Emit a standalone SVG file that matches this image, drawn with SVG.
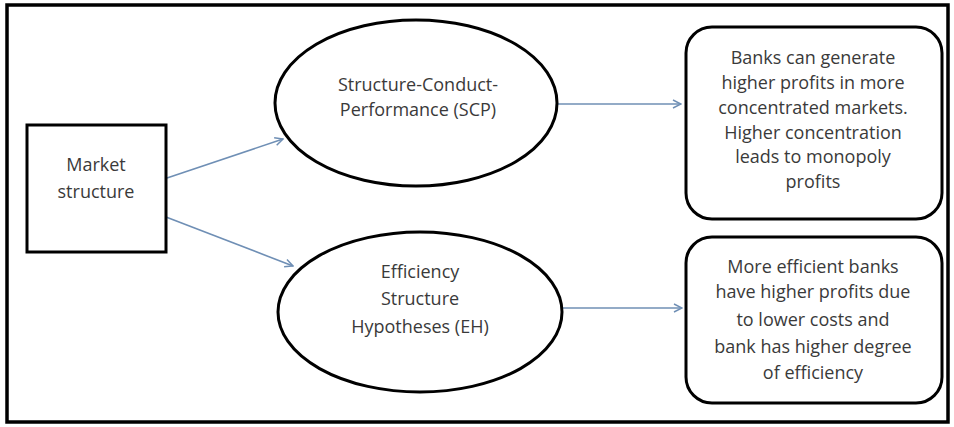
<svg xmlns="http://www.w3.org/2000/svg" width="954" height="427" viewBox="0 0 954 427">
<defs>
<style>
.frame{fill:none;stroke:#000;stroke-width:3.5}
.node{fill:#fff;stroke:#000;stroke-width:3}
.t{font-family:"Open Sans","Liberation Sans",sans-serif;font-size:18px;fill:#3a3a3a;text-anchor:middle}
.conn{fill:none;stroke:#6f8fb5;stroke-width:1.6}
</style>
<marker id="arr" viewBox="0 0 10 10" refX="9" refY="5" markerWidth="10" markerHeight="10" markerUnits="userSpaceOnUse" orient="auto">
<path d="M1,1 L9,5 L1,9" fill="none" stroke="#6f8fb5" stroke-width="1.5"/>
</marker>
</defs>
<rect x="0" y="0" width="954" height="427" fill="#fff"/>
<rect class="frame" x="7" y="5" width="941" height="417"/>
<g id="connectors">
<line class="conn" x1="167" y1="178" x2="283" y2="139" marker-end="url(#arr)"/>
<line class="conn" x1="166" y1="217" x2="293" y2="266" marker-end="url(#arr)"/>
<line class="conn" x1="557" y1="104" x2="681" y2="104" marker-end="url(#arr)"/>
<line class="conn" x1="562" y1="308" x2="682" y2="308" marker-end="url(#arr)"/>
</g>
<g id="market">
<rect class="node" x="27" y="125" width="139" height="127"/>
<text class="t" x="96" y="171">Market</text>
<text class="t" x="96" y="198">structure</text>
</g>
<g id="scp">
<ellipse class="node" cx="416" cy="103" rx="141" ry="83"/>
<text class="t" x="418" y="91">Structure-Conduct-</text>
<text class="t" x="418" y="116">Performance (SCP)</text>
</g>
<g id="eh">
<ellipse class="node" cx="420" cy="312" rx="142" ry="80"/>
<text class="t" x="420" y="278">Efficiency</text>
<text class="t" x="420" y="305">Structure</text>
<text class="t" x="420" y="333">Hypotheses (EH)</text>
</g>
<g id="scp-result">
<rect class="node" x="686" y="27" width="256" height="192" rx="26" ry="26"/>
<text class="t" x="813" y="64">Banks can generate</text>
<text class="t" x="813" y="89">higher profits in more</text>
<text class="t" x="813" y="114">concentrated markets.</text>
<text class="t" x="813" y="139">Higher concentration</text>
<text class="t" x="813" y="163">leads to monopoly</text>
<text class="t" x="813" y="188">profits</text>
</g>
<g id="eh-result">
<rect class="node" x="686" y="237" width="256" height="166" rx="26" ry="26"/>
<text class="t" x="813" y="273">More efficient banks</text>
<text class="t" x="813" y="298">have higher profits due</text>
<text class="t" x="813" y="326">to lower costs and</text>
<text class="t" x="813" y="353">bank has higher degree</text>
<text class="t" x="813" y="379">of efficiency</text>
</g>
</svg>
